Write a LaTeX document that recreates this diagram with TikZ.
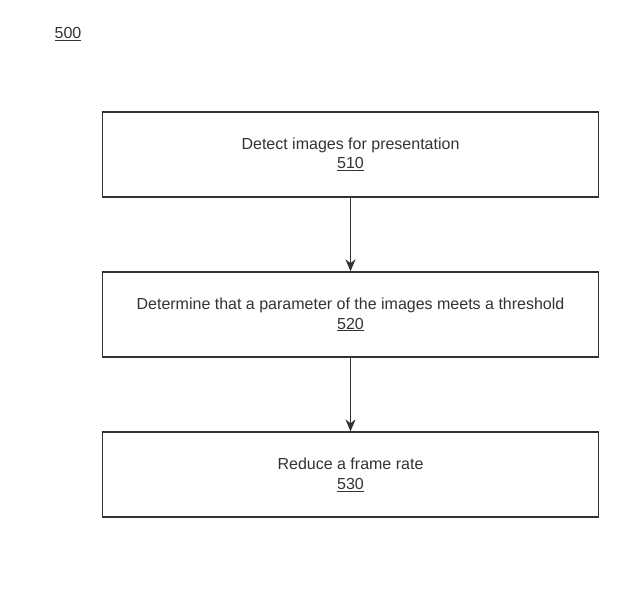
\documentclass[tikz,border=0pt]{standalone}
\usepackage{fontspec}
\setmainfont{Liberation Sans}
\usetikzlibrary{positioning,arrows.meta}
\definecolor{patentGray}{HTML}{333333}

\begin{document}
\begin{tikzpicture}[x=1pt, y=-1pt, node distance=73.5pt, every node/.style={font=\fontsize{16}{19.5}\selectfont, text=patentGray}, stepbox/.style={rectangle, draw=patentGray, line width=1.6pt, fill=white, minimum width=496pt, minimum height=85pt, align=center, inner sep=0pt}]
\useasboundingbox (0,0) rectangle (640,591);
\node (fig) at (68,34) {\underline{500}};
\node[stepbox] (detect) at (350.5,154.5) {Detect images for presentation \\ \underline{510}};
\node[stepbox] (determine) [below=of detect] {Determine that a parameter of the images meets a threshold \\ \underline{520}};
\node[stepbox] (reduce) [below=of determine] {Reduce a frame rate \\ \underline{530}};
\draw[-{Stealth[length=12pt, width=10pt]}, line width=1.4pt, patentGray] (detect.south) -- (determine.north);
\draw[-{Stealth[length=12pt, width=10pt]}, line width=1.4pt, patentGray] (determine.south) -- (reduce.north);
\end{tikzpicture}
\end{document}
